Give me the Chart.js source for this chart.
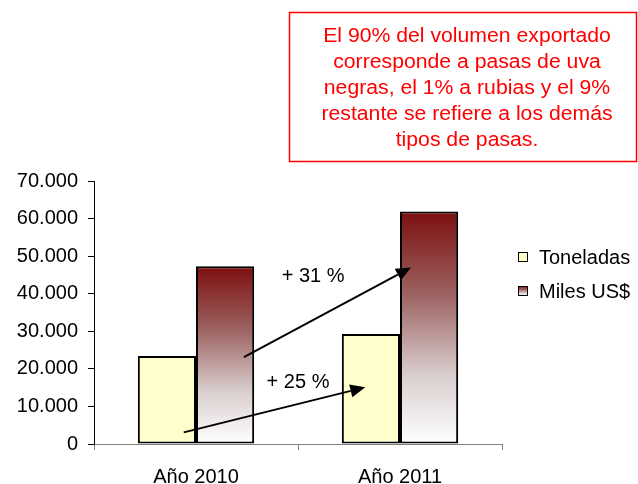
<!DOCTYPE html>
<html>
<head>
<meta charset="utf-8">
<script src="https://cdn.jsdelivr.net/npm/chart.js@4/dist/chart.umd.min.js"></script>
<style>
  html, body { margin: 0; padding: 0; background: #fff; }
</style>
</head>
<body>
<canvas id="chart" width="638" height="484"></canvas>
<script>
var categories = ["Año 2010", "Año 2011"];
var seriesNames = ["Toneladas", "Miles US$"];
var toneladas = [23400, 29300];
var milesUS = [47300, 61900];
var yTicks = [0, 10000, 20000, 30000, 40000, 50000, 60000, 70000];

// growth arrows, in data units (x = category index, y = value)
var arrows = [
    { from: [-0.06, 3100], to: [0.83, 15100] },
    { from: [0.235, 23100], to: [1.054, 47000] }
];
var arrowLabels = [
    { text: "+ 31 %", x: 0.574, y: 44600 },
    { text: "+ 25 %", x: 0.5, y: 16400 }
];
var noteLines = [
    "El 90% del volumen exportado",
    "corresponde a pasas de uva",
    "negras, el 1% a rubias y el 9%",
    "restante se refiere a los demás",
    "tipos de pasas."
];

var FONT = "Arial, 'Liberation Sans', sans-serif";

function fmt(v) {
    return String(v).replace(/\B(?=(\d{3})+(?!\d))/g, ".");
}

function redGradient(c, top, base) {
    var g = c.createLinearGradient(0, top, 0, base);
    g.addColorStop(0, "#7d0f0f");
    g.addColorStop(0.35, "#9c6060");
    g.addColorStop(0.7, "#d9cdcd");
    g.addColorStop(1, "#ffffff");
    return g;
}

function xPix(chart, v) {
    var x = chart.scales.x;
    var p0 = x.getPixelForValue(0), p1 = x.getPixelForValue(1);
    return p0 + v * (p1 - p0);
}

var extras = {
    id: "extras",
    afterDraw: function (chart) {
        var c = chart.ctx, y = chart.scales.y;
        c.save();

        // arrows
        c.strokeStyle = "#000";
        c.fillStyle = "#000";
        c.lineWidth = 2;
        arrows.forEach(function (a) {
            var x1 = xPix(chart, a.from[0]), y1 = y.getPixelForValue(a.from[1]);
            var x2 = xPix(chart, a.to[0]), y2 = y.getPixelForValue(a.to[1]);
            var ang = Math.atan2(y2 - y1, x2 - x1);
            var hl = 15, hw = 6.5;
            var bx = x2 - hl * Math.cos(ang), by = y2 - hl * Math.sin(ang);
            c.beginPath();
            c.moveTo(x1, y1);
            c.lineTo(bx, by);
            c.stroke();
            c.beginPath();
            c.moveTo(x2, y2);
            c.lineTo(bx + hw * Math.sin(ang), by - hw * Math.cos(ang));
            c.lineTo(bx - hw * Math.sin(ang), by + hw * Math.cos(ang));
            c.closePath();
            c.fill();
        });

        c.font = "20px " + FONT;
        c.textAlign = "center";
        c.textBaseline = "middle";
        arrowLabels.forEach(function (l) {
            c.fillText(l.text, xPix(chart, l.x), y.getPixelForValue(l.y));
        });

        // legend
        c.textAlign = "left";
        c.lineWidth = 1;
        [257, 291].forEach(function (cy, i) {
            var bx = 518, by = cy - 5;
            c.fillStyle = i === 0 ? "#ffffcc" : redGradient(c, by, by + 10);
            c.fillRect(bx, by, 10, 10);
            c.strokeStyle = "#000";
            c.strokeRect(bx + 0.5, by + 0.5, 9, 9);
            c.fillStyle = "#000";
            c.fillText(seriesNames[i], 539, cy + 1);
        });

        // note box
        c.strokeStyle = "#ff0000";
        c.lineWidth = 1.5;
        c.strokeRect(289.5, 12.5, 347, 149);
        c.fillStyle = "#ff0000";
        c.textAlign = "center";
        c.translate(467, 0);
        c.scale(1.06, 1);
        noteLines.forEach(function (t, i) {
            c.fillText(t, 0, 36 + i * 26);
        });
        c.restore();
    }
};

new Chart(document.getElementById("chart").getContext("2d"), {
    type: "bar",
    data: {
        labels: categories,
        datasets: [
            {
                label: seriesNames[0],
                data: toneladas,
                backgroundColor: "#ffffcc",
                borderColor: "#000",
                borderWidth: 2,
                borderSkipped: false
            },
            {
                label: seriesNames[1],
                data: milesUS,
                backgroundColor: function (ctx) {
                    var chart = ctx.chart;
                    if (!chart.chartArea || ctx.type !== "data") return "#a05050";
                    var y = chart.scales.y;
                    return redGradient(chart.ctx, y.getPixelForValue(ctx.raw), y.getPixelForValue(0));
                },
                borderColor: "#000",
                borderWidth: 2,
                borderSkipped: false
            }
        ]
    },
    options: {
        responsive: false,
        animation: false,
        layout: { padding: { top: 181, right: 136, left: 0, bottom: 0 } },
        datasets: { bar: { categoryPercentage: 0.57, barPercentage: 1.0 } },
        plugins: {
            legend: { display: false },
            tooltip: { enabled: false }
        },
        scales: {
            x: {
                afterFit: function (s) { s.height = 40; },
                border: { color: "#808080", width: 1 },
                grid: { drawOnChartArea: false, tickLength: 6, color: "#808080" },
                ticks: { color: "#000", padding: 15, font: { family: FONT, size: 20 } }
            },
            y: {
                min: 0,
                max: 70000,
                afterFit: function (s) { s.width = 94; },
                afterBuildTicks: function (s) {
                    s.ticks = yTicks.map(function (v) { return { value: v }; });
                },
                border: { color: "#000", width: 1 },
                grid: { drawOnChartArea: false, tickLength: 6, color: "#000" },
                ticks: {
                    color: "#000",
                    padding: 10,
                    font: { family: FONT, size: 20 },
                    callback: function (v) { return fmt(v); }
                }
            }
        }
    },
    plugins: [extras]
});
</script>
</body>
</html>
